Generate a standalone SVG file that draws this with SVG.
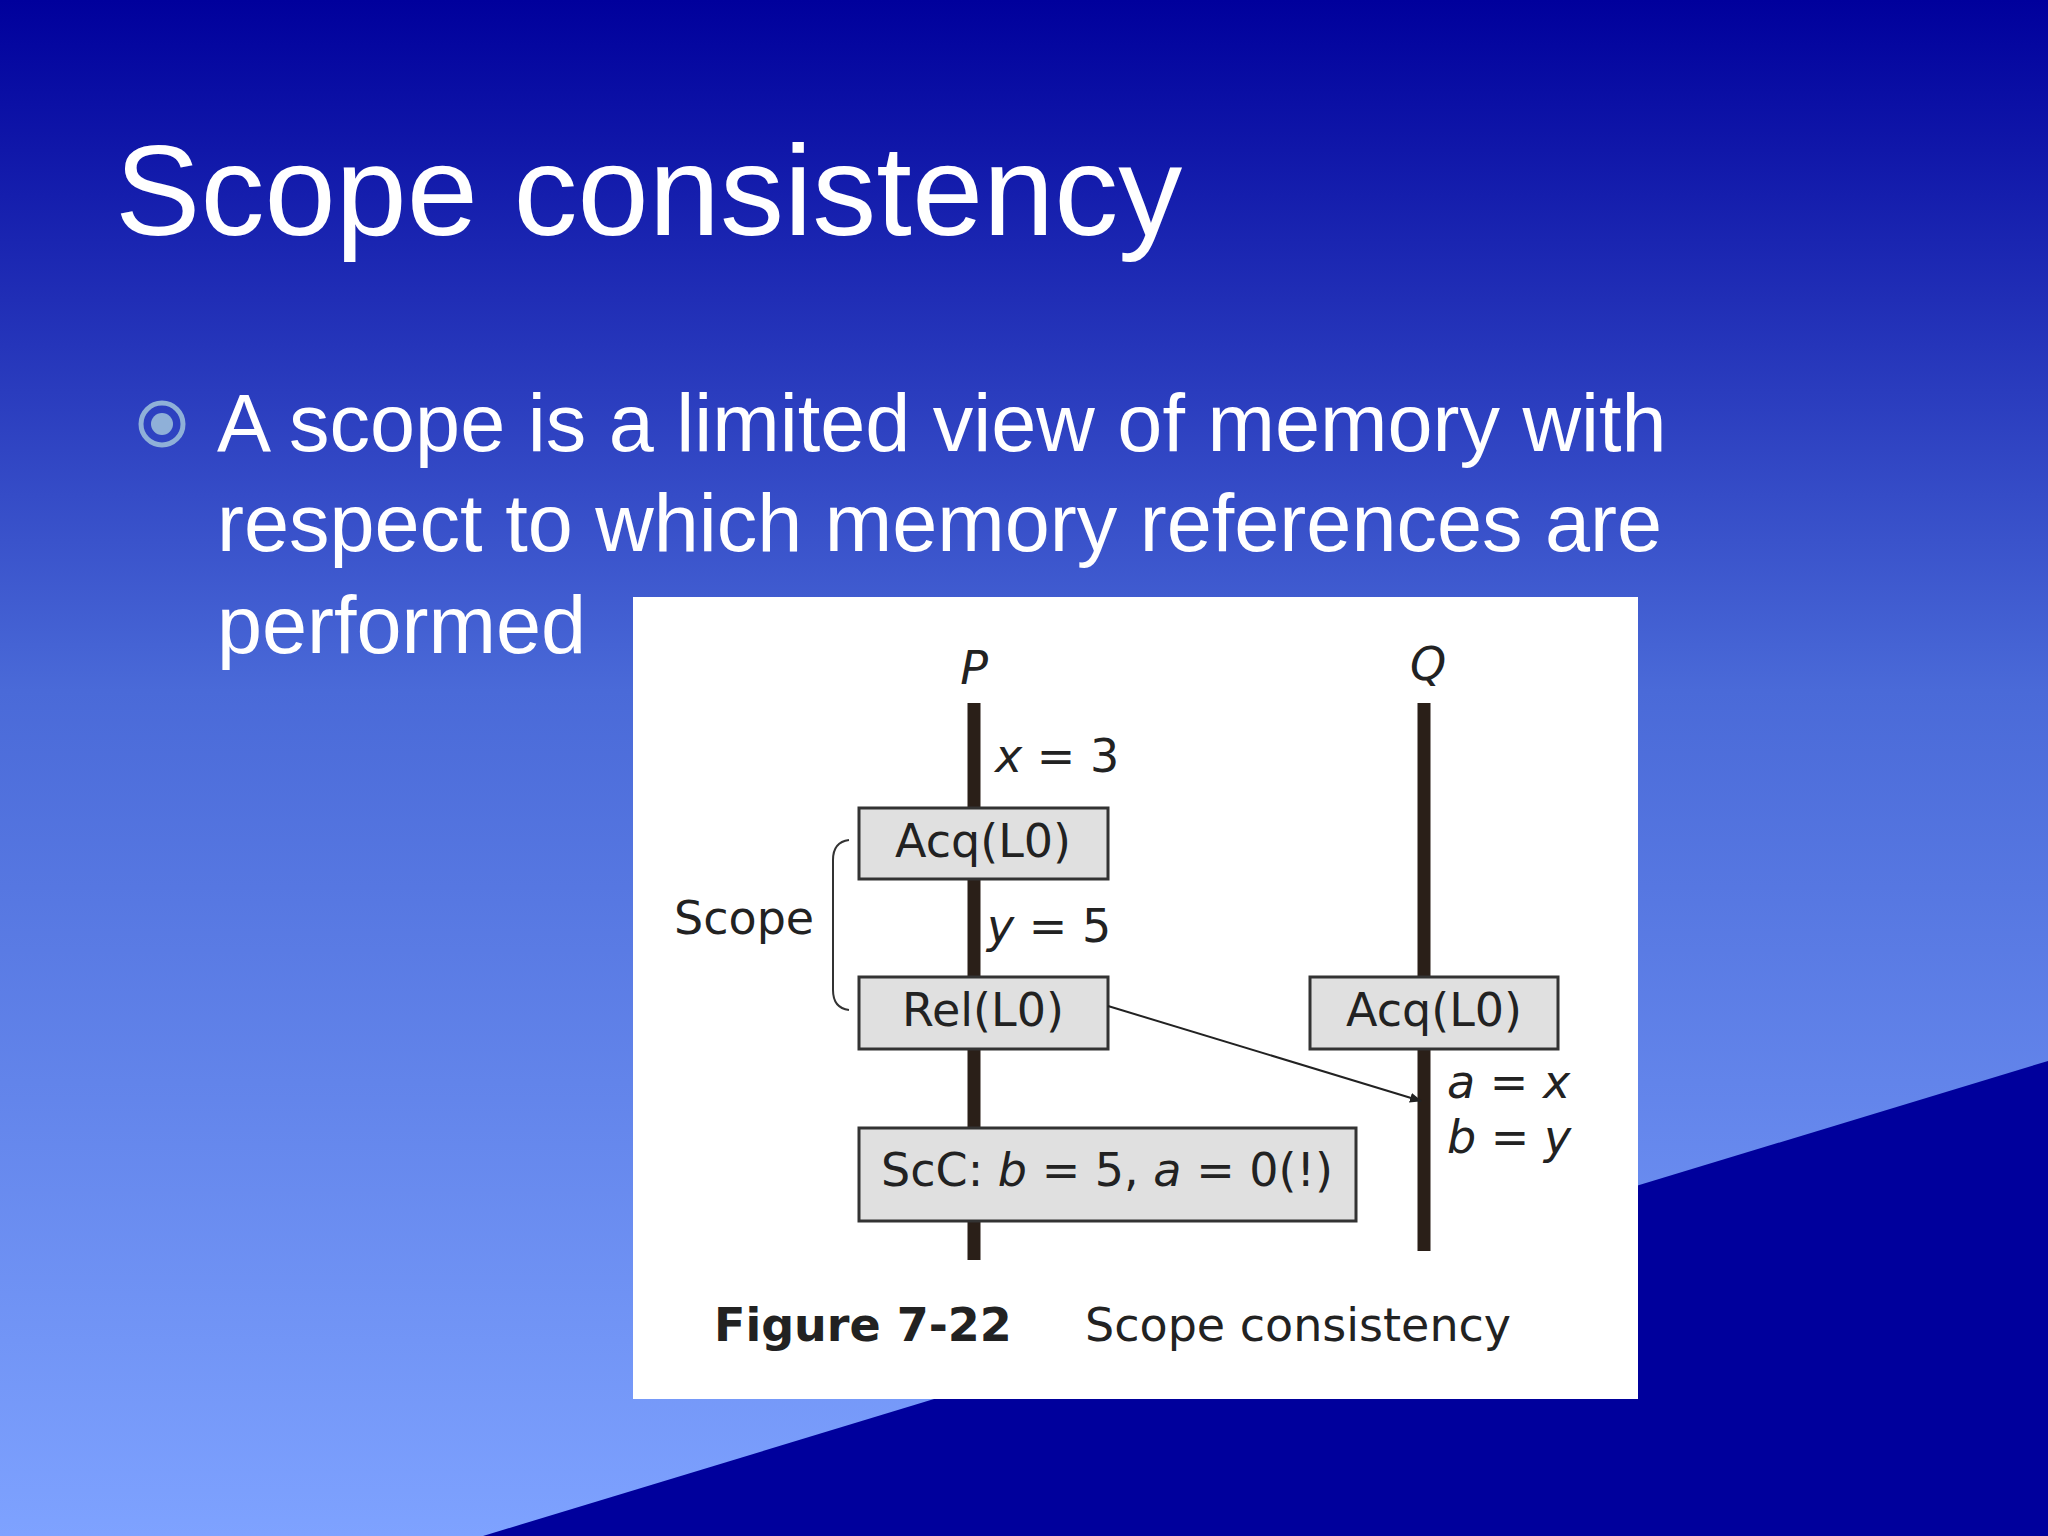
<svg xmlns="http://www.w3.org/2000/svg" width="2048" height="1536" viewBox="0 0 2048 1536">
<defs>
<linearGradient id="bg" x1="0" y1="0" x2="0" y2="1"><stop offset="0" stop-color="#00009c"/><stop offset="0.45" stop-color="#4a6ad8"/><stop offset="1" stop-color="#7ea2ff"/></linearGradient>
<marker id="ah" markerWidth="12" markerHeight="10" refX="11" refY="5" orient="auto" markerUnits="userSpaceOnUse"><path d="M0,0 L12,5 L0,10 Z" fill="#222"/></marker>
<style>
.w{font-family:"Liberation Sans",Arial,sans-serif;fill:#fff}
.d{font-family:"DejaVu Sans",Verdana,sans-serif;fill:#222;font-size:46px}
.box{fill:#e0e0e0;stroke:#333;stroke-width:3}
.life{stroke:#2a1f18;stroke-width:13}
</style>
</defs>
<rect width="2048" height="1536" fill="url(#bg)"/>
<polygon points="2048,1061 2048,1536 483,1536" fill="#00009c"/>
<text class="w" x="115" y="235" font-size="128">Scope consistency</text>
<circle cx="162" cy="424" r="21" fill="none" stroke="#8fb0d8" stroke-width="5"/>
<circle cx="162" cy="424" r="11" fill="#8fb0d8"/>
<text class="w" font-size="81"><tspan x="217" y="451">A scope is a limited view of memory with</tspan><tspan x="217" y="551">respect to which memory references are</tspan><tspan x="217" y="653">performed</tspan></text>
<rect x="633" y="597" width="1005" height="802" fill="#fff"/>
<g id="P"><line class="life" x1="974" y1="703" x2="974" y2="1260"/><text class="d" x="974" y="684" text-anchor="middle" font-style="italic">P</text></g>
<g id="Q"><line class="life" x1="1424" y1="703" x2="1424" y2="1251"/><text class="d" x="1428" y="680" text-anchor="middle" font-style="italic">Q</text></g>
<text class="d" x="995" y="772"><tspan font-style="italic">x</tspan> = 3</text>
<g id="acq1"><rect class="box" x="859" y="808" width="249" height="71"/><text class="d" x="983" y="857" text-anchor="middle">Acq(L0)</text></g>
<text class="d" x="987" y="942"><tspan font-style="italic">y</tspan> = 5</text>
<g id="rel"><rect class="box" x="859" y="977" width="249" height="72"/><text class="d" x="983" y="1026" text-anchor="middle">Rel(L0)</text></g>
<g id="acq2"><rect class="box" x="1310" y="977" width="248" height="72"/><text class="d" x="1434" y="1026" text-anchor="middle">Acq(L0)</text></g>
<g id="scc"><rect class="box" x="859" y="1128" width="497" height="93"/><text class="d" x="1107" y="1186" text-anchor="middle">ScC: <tspan font-style="italic">b</tspan> = 5, <tspan font-style="italic">a</tspan> = 0(!)</text></g>
<g id="connectors"><line x1="1108" y1="1006" x2="1421" y2="1101" stroke="#222" stroke-width="2" marker-end="url(#ah)"/></g>
<text class="d" x="1447" y="1098" font-style="italic">a = x</text>
<text class="d" x="1447" y="1153" font-style="italic">b = y</text>
<text class="d" x="674" y="934">Scope</text>
<path d="M849,840 Q833,842 833,860 L833,990 Q833,1008 849,1010" fill="none" stroke="#333" stroke-width="2"/>
<text class="d" x="714" y="1341" font-weight="bold">Figure 7-22</text>
<text class="d" x="1085" y="1341">Scope consistency</text>
</svg>
